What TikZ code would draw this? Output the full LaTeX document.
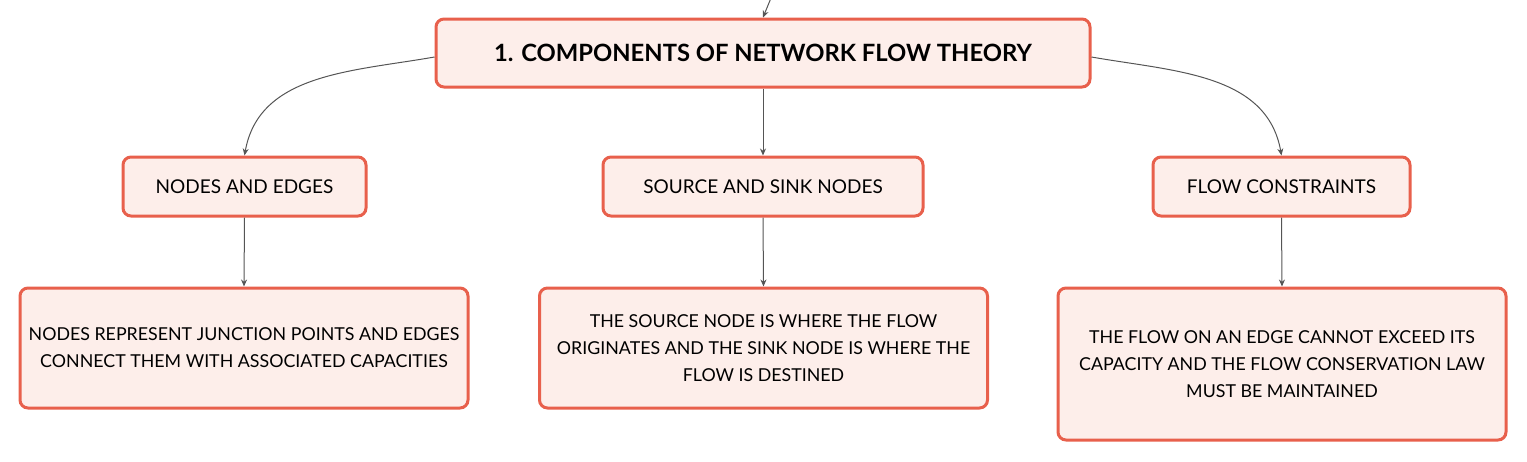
\documentclass[tikz,border=0pt]{standalone}
\usepackage{fontspec}
\setmainfont{Lato}
\usetikzlibrary{arrows.meta}
\definecolor{boxred}{HTML}{E8604C}
\definecolor{boxfill}{HTML}{FDEEEA}
\definecolor{linkgray}{HTML}{555555}
\tikzset{
  box/.style={draw=boxred,line width=1.5pt,fill=boxfill,rounded corners=4pt,align=center,inner sep=0pt,font=\fontsize{9.5}{13.5}\selectfont},
  detail/.style={box,minimum width=224pt,font=\fontsize{8.9}{13.5}\selectfont},
  link/.style={draw=linkgray,line width=0.5pt,-{Stealth[length=3.5pt,width=3pt]}},
}
\begin{document}
\begin{tikzpicture}[x=0.5pt,y=-0.5pt]
\useasboundingbox (0,0) rectangle (1527,461);
% main topic
\node[box,minimum width=327pt,minimum height=34pt,font=\bfseries\fontsize{11.9}{14}\selectfont] (top)at(763,53){1. COMPONENTS OF NETWORK FLOW THEORY};
\coordinate (parent)at(771,-2);
% subtopics
\node[box,minimum width=121.5pt,minimum height=29.5pt] (edges)at(244.5,186.5){NODES AND EDGES};
\node[box,minimum width=160pt,minimum height=29.5pt] (sink)at(763,186.5){SOURCE AND SINK NODES};
\node[box,minimum width=128.5pt,minimum height=29.5pt] (cons)at(1281.5,186.5){FLOW CONSTRAINTS};
% details
\node[detail,minimum height=60pt] (edgesd)at(244,348){NODES REPRESENT JUNCTION POINTS AND EDGES\\CONNECT THEM WITH ASSOCIATED CAPACITIES};
\node[detail,minimum height=60pt] (sinkd)at(763.5,348){THE SOURCE NODE IS WHERE THE FLOW\\ORIGINATES AND THE SINK NODE IS WHERE THE\\FLOW IS DESTINED};
\node[detail,minimum height=76pt] (consd)at(1282,364){THE FLOW ON AN EDGE CANNOT EXCEED ITS\\CAPACITY AND THE FLOW CONSERVATION LAW\\MUST BE MAINTAINED};
% links
\draw[link] (parent) -- (top.north);
\draw[link] ([yshift=-2pt]top.west) to[out=190,in=80] (edges.north);
\draw[link] (top.south) -- (sink.north);
\draw[link] ([yshift=-2pt]top.east) to[out=-10,in=100] (cons.north);
\draw[link] (edges.south) -- (edgesd.north);
\draw[link] (sink.south) -- (sinkd.north);
\draw[link] (cons.south) -- (consd.north);
\end{tikzpicture}
\end{document}
